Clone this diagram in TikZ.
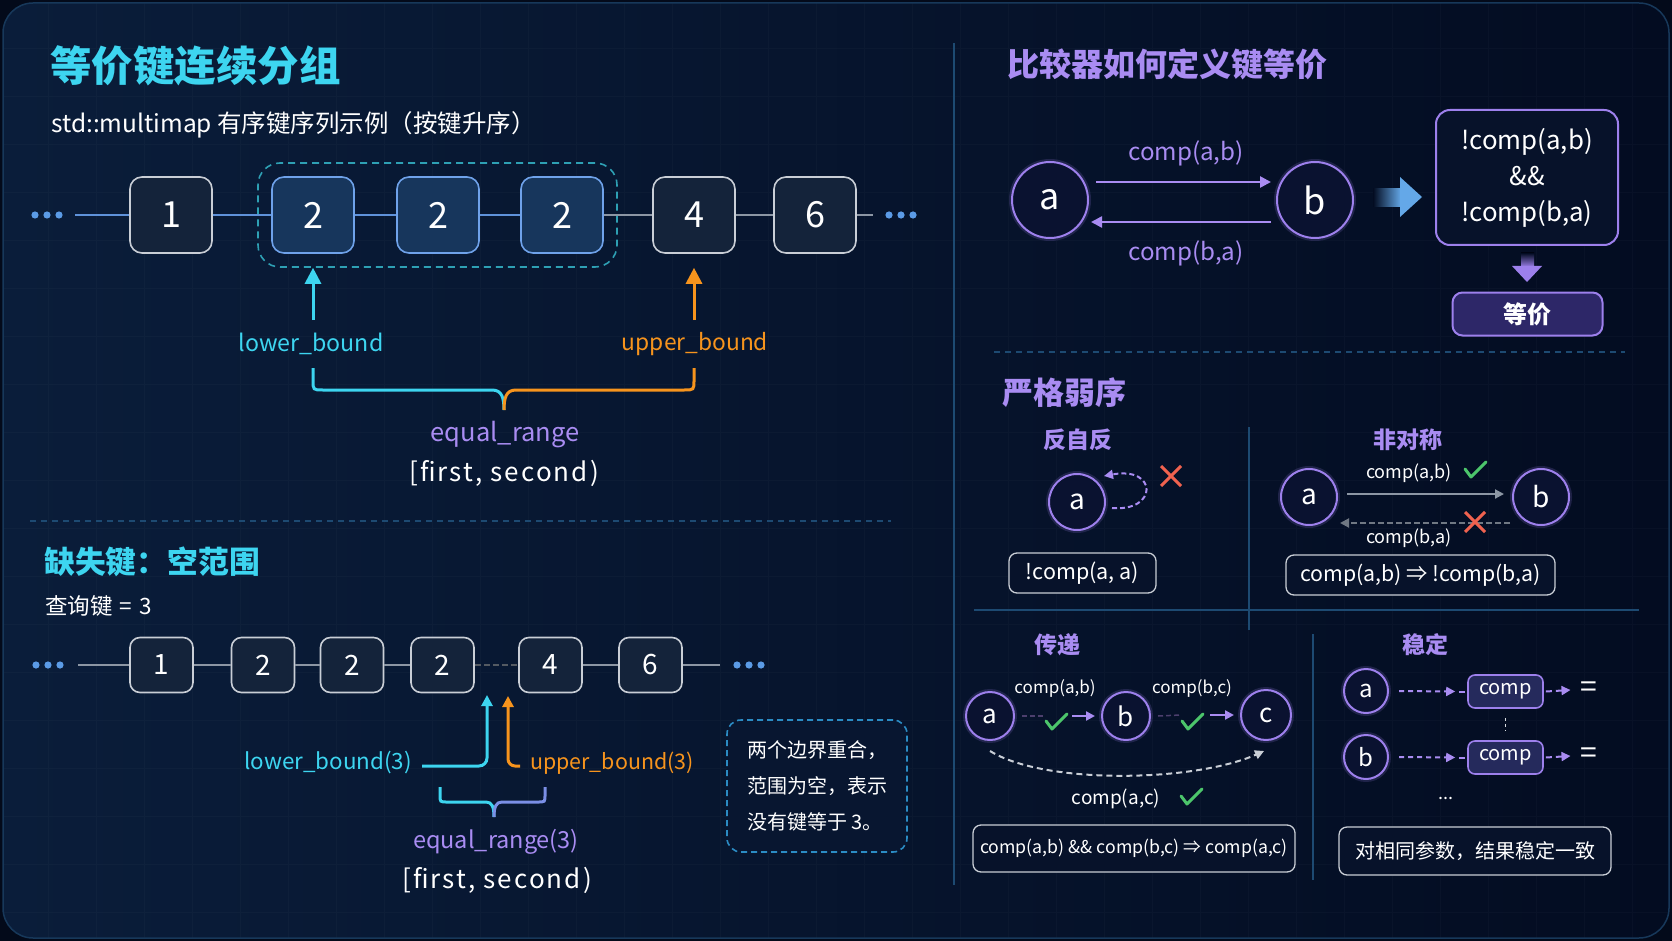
\documentclass[tikz,border=0pt]{standalone}
\usepackage{fontspec}
\setmainfont{Noto Sans CJK SC}
\usetikzlibrary{arrows.meta,calc}
\definecolor{bgA}{HTML}{0A1D3A}
\definecolor{bgB}{HTML}{030C21}
\definecolor{bgO}{HTML}{030A1A}
\definecolor{frameC}{HTML}{17385A}
\definecolor{cyanT}{HTML}{3DD5F0}
\definecolor{purT}{HTML}{A98CF2}
\definecolor{orgT}{HTML}{F7941D}
\definecolor{boxF}{HTML}{14233A}
\definecolor{boxD}{HTML}{C9CED6}
\definecolor{hiF}{HTML}{17365C}
\definecolor{hiD}{HTML}{6FA2EA}
\definecolor{lnB}{HTML}{5F92DA}
\definecolor{lnG}{HTML}{8C96A4}
\definecolor{dotC}{HTML}{5B9BE6}
\definecolor{sepC}{HTML}{1D4A72}
\definecolor{grnC}{HTML}{4CC56B}
\definecolor{redC}{HTML}{F0624F}
\definecolor{circF}{HTML}{0A1230}
\definecolor{circD}{HTML}{9D80EC}
\definecolor{noteD}{HTML}{2B8CC4}
\definecolor{eqF}{HTML}{2D2768}
\definecolor{cmpF}{HTML}{252A5C}
\definecolor{darkF}{HTML}{07122A}
\definecolor{blueA}{HTML}{64A8E8}
\definecolor{brR}{HTML}{7B8FE6}
\newcommand\fsz[1]{\fontsize{#1}{#1}\selectfont}
\newcommand\wide{\addfontfeatures{LetterSpace=8}}
\tikzset{
  keybox/.style={draw=boxD, fill=boxF, line width=1.6pt, rounded corners=12pt,
    minimum width=82pt, minimum height=76pt, text=white, font=\fsz{36}, inner sep=0pt},
  hibox/.style={keybox, draw=hiD, fill=hiF},
  keysm/.style={keybox, minimum width=63pt, minimum height=55pt, rounded corners=10pt, font=\fsz{28}},
  nodecirc/.style={circle, draw=circD, fill=circF, line width=2pt, text=white, inner sep=0pt,
    preaction={draw=circD, line width=6pt, draw opacity=0.18}},
  rbox/.style={draw=boxD, fill=darkF, line width=1.3pt, rounded corners=8pt, text=white, inner sep=0pt},
  cmpbox/.style={draw=circD, fill=cmpF, line width=1.6pt, rounded corners=7pt, text=white,
    inner sep=0pt, minimum width=75pt, minimum height=33pt, font=\fsz{20}},
  lbl/.style={inner sep=0pt},
  arrL/.style={-{Triangle[length=16pt,width=16pt]}},
  arrM/.style={-{Triangle[length=11pt,width=11pt]}},
  arrS/.style={-{Triangle[length=9pt,width=9pt]}},
  chk/.pic={\draw[grnC, line width=3pt, line cap=round, line join=round] (-10,-1) -- (-4,7) -- (11,-8);},
  xmk/.pic={\draw[redC, line width=3pt] (-10,-10) -- (10,10) (-10,10) -- (10,-10);},
}
\begin{document}
\begin{tikzpicture}[x=1pt,y=-1pt]
\useasboundingbox (0,0) rectangle (1672,941);
% background
\fill[bgO] (0,0) rectangle (1672,941);
\shade[left color=bgA, right color=bgB, rounded corners=30pt] (3,3) rectangle (1669,938);
\begin{scope}
\clip[rounded corners=30pt] (3,3) rectangle (1669,938);
\draw[white, opacity=0.025, line width=0.8pt, step=48pt] (0,0) grid (1672,941);
\end{scope}
\draw[frameC, line width=1.5pt, rounded corners=30pt] (3,3) rectangle (1669,938);

% ================= Section 1 =================
\node[anchor=west, lbl, text=cyanT, font=\bfseries\fsz{41.5}] (t1) at (50,66) {等价键连续分组};
\node[anchor=west, lbl, text=white, font=\fsz{24.5}] (st1) at (51,125) {std::multimap 有序键序列示例（按键升序）};

\node[draw=cyanT!75!black, dashed, dash pattern=on 7pt off 5pt, line width=1.6pt, rounded corners=22pt,
  minimum width=359pt, minimum height=104pt] (grp) at (437.5,215) {};

\node[keybox] (k1) at (171,215) {1};
\node[hibox] (k2) at (313,215) {2};
\node[hibox] (k3) at (438,215) {2};
\node[hibox] (k4) at (562,215) {2};
\node[keybox] (k5) at (694,215) {4};
\node[keybox] (k6) at (815,215) {6};

\foreach \x in {35,47,59} \fill[dotC] (\x,215) circle (3.6pt);
\foreach \x in {889,901,913} \fill[dotC] (\x,215) circle (3.6pt);
\coordinate (d1e) at (75,215);
\coordinate (d2s) at (873,215);
\draw[lnB, line width=2.5pt] (d1e) -- (k1) (k1) -- (k2) (k2) -- (k3) (k3) -- (k4);
\draw[lnG, line width=2.5pt] (k4) -- (k5) (k5) -- (k6) (k6) -- (d2s);

\node[lbl, text=cyanT, font=\fsz{23.2}] (lbt) at (311,344) {lower\_bound};
\node[lbl, text=orgT, font=\fsz{22.8}] (ubt) at (695,344) {upper\_bound};
\coordinate (lbA) at (313,320);
\coordinate (ubA) at (694,320);
\draw[cyanT, line width=3pt, arrL] (lbA) -- ([yshift=-14pt]k2.south);
\draw[orgT, line width=3pt, arrL] (ubA) -- ([yshift=-14pt]k5.south);

\coordinate (brL) at (313,368);
\coordinate (brR) at (694,368);
\coordinate (brT) at (504,410);
\draw[cyanT, line width=3pt] (brL) -- (313,380) .. controls (313,390) .. (323,390) -- (492,390) .. controls (502,390) and (504,398) .. (brT);
\draw[orgT, line width=3pt] (brR) -- (694,380) .. controls (694,390) .. (684,390) -- (516,390) .. controls (506,390) and (504,398) .. (brT);
\node[lbl, text=purT, font=\fsz{25.5}] (eqr) at (505,435) {equal\_range};
\node[lbl, text=white, font=\fsz{26}\wide] (fs1) at (504,473) {[first, second)};

% separator
\draw[sepC, line width=1.5pt, dash pattern=on 6pt off 5pt] (30,521) -- (891,521);

% ================= Section 2 =================
\node[anchor=west, lbl, text=cyanT, font=\bfseries\fsz{30.8}] (t2) at (44,562) {缺失键：空范围};
\node[anchor=west, lbl, text=white, font=\fsz{22.5}] (q3) at (45,606) {查询键\hspace{7pt}=\hspace{7pt}3};

\node[keysm] (m1) at (161.5,665) {1};
\node[keysm] (m2) at (263,665) {2};
\node[keysm] (m3) at (352,665) {2};
\node[keysm] (m4) at (442.5,665) {2};
\node[keysm] (m5) at (550.5,665) {4};
\node[keysm] (m6) at (650.5,665) {6};
\foreach \x in {36,48,60} \fill[dotC] (\x,665) circle (3.6pt);
\foreach \x in {737,749,761} \fill[dotC] (\x,665) circle (3.6pt);
\coordinate (e1e) at (78,665);
\coordinate (e2s) at (720,665);
\draw[lnG, line width=2.2pt] (e1e) -- (m1) (m1) -- (m2) (m2) -- (m3) (m3) -- (m4) (m5) -- (m6) (m6) -- (e2s);
\draw[lnG!60!black, line width=2pt, dash pattern=on 6pt off 3pt] (m4) -- (m5);

\coordinate (lb3s) at (422,766);
\coordinate (lb3t) at (487,695);
\coordinate (ub3s) at (520,766);
\coordinate (ub3t) at (508,696);
\draw[cyanT, line width=3pt, rounded corners=8pt, arrM] (lb3s) -| (lb3t);
\draw[orgT, line width=3pt, rounded corners=7pt, arrM] (ub3s) -| (ub3t);
\node[anchor=east, lbl, text=cyanT, font=\fsz{22.4}] (lb3) at (412,763) {lower\_bound(3)};
\node[anchor=west, lbl, text=orgT, font=\fsz{21.4}] (ub3) at (530,763) {upper\_bound(3)};

\coordinate (b2L) at (440,787);
\coordinate (b2R) at (545,787);
\coordinate (b2T) at (494,817);
\draw[cyanT, line width=3pt] (b2L) -- (440,795) .. controls (440,802) .. (447,802) -- (486,802) .. controls (492,802) and (494,807) .. (b2T);
\draw[brR, line width=3pt] (b2R) -- (545,795) .. controls (545,802) .. (538,802) -- (502,802) .. controls (496,802) and (494,807) .. (b2T);
\node[lbl, text=purT, font=\fsz{23.5}] (eqr3) at (496,842) {equal\_range(3)};
\node[lbl, text=white, font=\fsz{26}\wide] (fs3) at (497,880) {[first, second)};

\node[draw=noteD, line width=1.6pt, dash pattern=on 6pt off 4pt, rounded corners=14pt, fill=darkF!60!bgA,
  minimum width=180pt, minimum height=132pt, align=left, text=white, font=\fontsize{20}{36}\selectfont]
  (note) at (817,786) {两个边界重合，\\范围为空，表示\\没有键等于 3。};

% ================= Right column =================
\draw[sepC, line width=1.5pt] (954,43) -- (954,885);
\node[anchor=west, lbl, text=purT, font=\bfseries\fsz{32}] (t3) at (1007,64) {比较器如何定义键等价};

\node[nodecirc, minimum size=76pt, font=\fsz{36}] (ca) at (1050,200) {a};
\node[nodecirc, minimum size=76pt, font=\fsz{36}] (cb) at (1315,200) {b};
\draw[purT, line width=2.5pt, arrM] ([yshift=18pt,xshift=7pt]ca.east) -- ([yshift=18pt,xshift=-5pt]cb.west);
\draw[purT, line width=2.5pt, arrM] ([yshift=-22pt,xshift=-5pt]cb.west) -- ([yshift=-22pt,xshift=2pt]ca.east);
\node[lbl, text=purT, font=\fsz{24.2}] (cab) at (1186,153) {comp(a,b)};
\node[lbl, text=purT, font=\fsz{24.2}] (cba) at (1186,253) {comp(b,a)};

\shade[left color=bgB, right color=blueA] (1373,189) rectangle (1401,207);
\fill[blueA] (1400,177) -- (1422,197) -- (1400,217) -- cycle;

\node[draw=circD, line width=2pt, rounded corners=14pt, fill=darkF, minimum width=182pt, minimum height=135pt,
  align=center, text=white, font=\fontsize{25.8}{36}\selectfont, inner sep=0pt] (eqbox) at (1527,177.5)
  {!comp(a,b)\\\&\&\\!comp(b,a)};

\shade[top color=bgB, bottom color=circD] (1521,253) rectangle (1534,267);
\fill[circD] (1512,266) -- (1542,266) -- (1527,282) -- cycle;
\node[draw=circD, fill=eqF, line width=2pt, rounded corners=10pt, minimum width=150pt, minimum height=43pt,
  text=white, font=\bfseries\fsz{24}, inner sep=0pt] (eqv) at (1527.5,314) {等价};

\draw[sepC, line width=1.5pt, dash pattern=on 6pt off 5pt] (994,352) -- (1625,352);

\node[anchor=west, lbl, text=purT, font=\bfseries\fsz{31}] (t4) at (1002,393) {严格弱序};
\node[lbl, text=purT, font=\bfseries\fsz{23}] (h1) at (1078,440) {反自反};
\node[lbl, text=purT, font=\bfseries\fsz{23}] (h2) at (1408,440) {非对称};
\draw[sepC, line width=1.5pt] (1249,427) -- (1249,630);
\draw[sepC, line width=1.5pt] (974,610) -- (1639,610);
\draw[sepC, line width=1.5pt] (1313,634) -- (1313,880);

% irreflexive
\node[nodecirc, minimum size=56pt, font=\fsz{28}] (ra) at (1077,502) {a};
\coordinate (rl1) at (1112,508);
\coordinate (rl2) at (1104,476);
\draw[purT, line width=2pt, dash pattern=on 5pt off 3pt, arrS] (rl1) .. controls (1158,512) and (1158,466) .. (rl2);
\pic at (1171,476) {xmk};
\node[rbox, minimum width=147pt, minimum height=40pt, font=\fsz{21.5}] (rbx) at (1082.5,573) {!comp(a, a)};

% asymmetric
\node[nodecirc, minimum size=56pt, font=\fsz{28}] (aa) at (1309,497) {a};
\node[nodecirc, minimum size=56pt, font=\fsz{28}] (ab) at (1541,497) {b};
\draw[lnG, line width=2pt, arrS] ([yshift=3pt,xshift=9pt]aa.east) -- ([yshift=3pt,xshift=-8pt]ab.west);
\draw[lnG!80!black, line width=2pt, dash pattern=on 6pt off 3pt, arrS] ([yshift=-26pt,xshift=-2pt]ab.west) -- ([yshift=-26pt,xshift=2pt]aa.east);
\node[lbl, text=white, font=\fsz{18}] (aab) at (1409,473) {comp(a,b)};
\node[lbl, text=white, font=\fsz{18}] (aba) at (1409,538) {comp(b,a)};
\pic at (1475,470) {chk};
\pic at (1475,522) {xmk};
\node[rbox, minimum width=269pt, minimum height=40pt, font=\fsz{21.3}] (abx) at (1420.5,575) {comp(a,b) ⇒ !comp(b,a)};

% transitive
\node[lbl, text=purT, font=\bfseries\fsz{23}] (h3) at (1057,645) {传递};
\node[nodecirc, minimum size=48pt, font=\fsz{26}] (ta) at (990,716) {a};
\node[nodecirc, minimum size=48pt, font=\fsz{26}] (tb) at (1126,716) {b};
\node[nodecirc, minimum size=50pt, font=\fsz{26}] (tc) at (1266,715) {c};
\node[lbl, text=white, font=\fsz{17}] (tab) at (1055,688) {comp(a,b)};
\node[lbl, text=white, font=\fsz{17}] (tbc) at (1192,688) {comp(b,c)};
\draw[purT!45!black, line width=1.5pt, dash pattern=on 5pt off 3pt] ([xshift=7pt]ta.east) -- ([xshift=-58pt]tb.west);
\draw[purT, line width=2.5pt, arrS] ([xshift=-29pt]tb.west) -- ([xshift=-6pt]tb.west);
\draw[purT!45!black, line width=1.5pt, dash pattern=on 5pt off 3pt] ([xshift=7pt]tb.east) -- ([xshift=-59pt]tc.west);
\draw[purT, line width=2.5pt, arrS] ([xshift=-30pt]tc.west) -- ([xshift=-6pt]tc.west);
\pic at (1056,722) {chk};
\pic at (1192,722) {chk};
\draw[boxD, line width=2pt, dash pattern=on 6pt off 4pt, arrS] ([yshift=-10pt]ta.south) .. controls (1045,785) and (1195,782) .. ([yshift=-10pt,xshift=-2pt]tc.south);
\node[lbl, text=white, font=\fsz{19}] (tac) at (1116,799) {comp(a,c)};
\pic at (1191,797) {chk};
\node[rbox, minimum width=322pt, minimum height=47pt, font=\fsz{17.7}] (tbx) at (1134,848.5) {comp(a,b) \&\& comp(b,c) ⇒ comp(a,c)};

% stable
\node[lbl, text=purT, font=\bfseries\fsz{23}] (h4) at (1425,645) {稳定};
\node[nodecirc, minimum size=44pt, font=\fsz{24}] (sa) at (1366,691) {a};
\node[nodecirc, minimum size=44pt, font=\fsz{24}] (sb) at (1366,757) {b};
\node[cmpbox] (sc1) at (1505.5,691.5) {comp};
\node[cmpbox] (sc2) at (1505.5,757.5) {comp};
\node[lbl, text=white, font=\fsz{30}] (eq1) at (1589,690) {=};
\node[lbl, text=white, font=\fsz{30}] (eq2) at (1589,756) {=};
\draw[purT, line width=2pt, dash pattern=on 5pt off 4pt, arrS] ([xshift=10pt]sa.east) -- ([xshift=-12pt]sc1.west);
\draw[purT, line width=2pt, dash pattern=on 5pt off 4pt, arrS] ([xshift=10pt]sb.east) -- ([xshift=-12pt]sc2.west);
\draw[purT, line width=2pt] ([xshift=-8pt]sc1.west) -- ([xshift=-2pt]sc1.west);
\draw[purT, line width=2pt] ([xshift=-8pt]sc2.west) -- ([xshift=-2pt]sc2.west);
\draw[purT, line width=2pt, dash pattern=on 6pt off 4pt, arrS] ([xshift=2pt]sc1.east) -- ([xshift=-10pt]eq1.west);
\draw[purT, line width=2pt, dash pattern=on 6pt off 4pt, arrS] ([xshift=2pt]sc2.east) -- ([xshift=-10pt]eq2.west);
\draw[boxD!70, line width=1.5pt, dash pattern=on 3pt off 3pt] ([yshift=-9pt]sc1.south) -- ([yshift=9pt]sc2.north);
\node[lbl, text=white, font=\fsz{18}] (ell) at (1446,798) {...};
\node[rbox, minimum width=272pt, minimum height=48pt, font=\fsz{20}] (sbx) at (1475,851) {对相同参数，结果稳定一致};
\end{tikzpicture}
\end{document}
